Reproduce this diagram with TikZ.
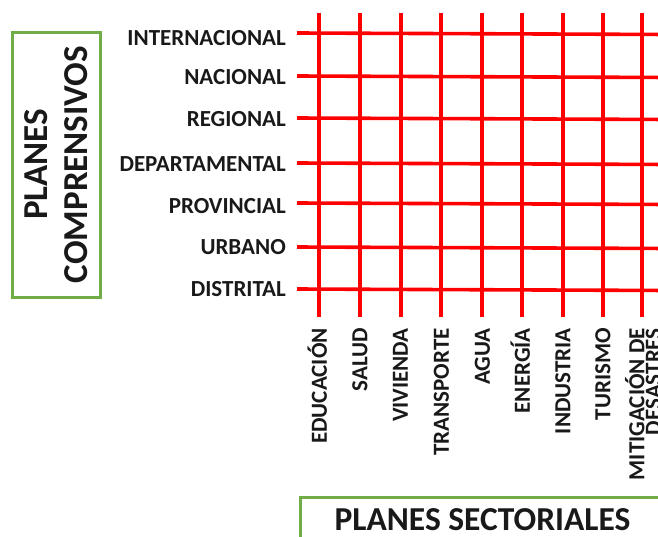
\documentclass[tikz,border=0pt]{standalone}
\usepackage{fontspec}
\setmainfont{Carlito}
\definecolor{offgreen}{HTML}{70AD47}
\begin{document}
\begin{tikzpicture}[x=1pt,y=-1pt,
  gridline/.style={draw=red, line width=3.6pt},
  rowlab/.style={font=\fontsize{23}{26}\selectfont\bfseries, anchor=east, inner sep=0pt, text=black!90},
  collab/.style={font=\fontsize{23}{16.5}\selectfont\bfseries, rotate=90, anchor=east, inner sep=0pt, align=right, text height=14.5pt, text depth=0pt, text=black!90},
  frame/.style={draw=offgreen, line width=3pt}]
\useasboundingbox (0,0) rectangle (658,536);
% rows
\foreach \ly/\ty/\t/\n in {33/38/INTERNACIONAL/r1, 76/77/NACIONAL/r2, 118/119/REGIONAL/r3, 163/164/DEPARTAMENTAL/r4, 203/206/PROVINCIAL/r5, 247/247.5/URBANO/r6, 289/289/DISTRITAL/r7}{
  \node[rowlab] (\n) at (286,\ty) {\t};
  \coordinate (\n a) at (297,\ly);
  \coordinate (\n b) at (670,\ly+1.5);
  \draw[gridline] (\n a) -- (\n b);
}
% columns
\foreach \lx/\tx/\t/\n in {319/319.5/EDUCACIÓN/c1, 360/360/SALUD/c2, 401/400.5/VIVIENDA/c3, 441/441.5/TRANSPORTE/c4, 482/482.5/AGUA/c5, 522/522.5/ENERGÍA/c6, 563/563/INDUSTRIA/c7, 603/603/TURISMO/c8}{
  \coordinate (\n a) at (\lx,13);
  \coordinate (\n b) at (\lx,317);
  \draw[gridline] (\n a) -- (\n b);
  \node[collab] (\n t) at (\tx,328) {\t};
}
\coordinate (c9a) at (642,13);
\coordinate (c9b) at (642,317);
\draw[gridline] (c9a) -- (c9b);
\node[collab] (c9t) at (653.5,328) {MITIGACIÓN DE\\DESASTRES};
% left frame
\node[frame, rotate=90, minimum width=265, minimum height=88, inner sep=0pt,
  font=\fontsize{35}{40}\selectfont\bfseries, align=center, text=black!90] (pc) at (56,164.5) {PLANES\\COMPRENSIVOS};
% bottom frame
\draw[frame] (300,497) rectangle (720,600);
\node[font=\fontsize{33.5}{36}\selectfont\bfseries, inner sep=0pt, text=black!90] (ps) at (482.5,520) {PLANES SECTORIALES};
\end{tikzpicture}
\end{document}
